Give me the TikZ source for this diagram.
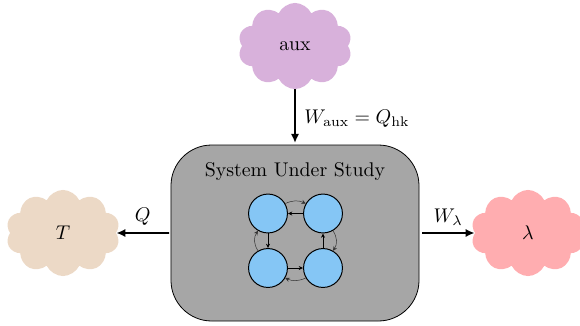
\documentclass[tikz,border=0pt]{standalone}
\usetikzlibrary{shapes.symbols,arrows.meta}
\definecolor{cauxc}{HTML}{D8B1DB}
\definecolor{ctc}{HTML}{ECD9C6}
\definecolor{clc}{HTML}{FFADB0}
\definecolor{sysc}{HTML}{A6A6A6}
\definecolor{sitec}{HTML}{85C6F5}
\tikzset{
  x=0.504pt,y=-0.504pt,
  bath/.style={cloud,cloud puffs=10,cloud puff arc=130,aspect=1.3,draw=none,inner sep=0pt,minimum width=57.5pt,minimum height=43.4pt},
  sysbox/.style={draw=black,fill=sysc,rounded corners=20.5pt,line width=0.4pt,minimum width=125pt,minimum height=88.7pt,inner sep=0pt},
  site/.style={circle,draw=black,fill=sitec,line width=0.5pt,minimum size=19.6pt,inner sep=0pt},
  flow/.style={-{Latex[length=4.6pt,width=4.2pt]},line width=0.9pt},
  hop/.style={-{Stealth[length=2.2pt,width=2pt]},line width=0.4pt},
  backhop/.style={-{Stealth[length=2.2pt,width=2.1pt]},line width=0.25pt,black!80},
}
\begin{document}
\begin{tikzpicture}
\useasboundingbox (0,0) rectangle (580,325);
\node[bath,fill=cauxc] (aux) at (295,46) {aux};
\node[bath,fill=ctc] (T) at (63,233) {$T$};
\begin{scope}
\clip (0,0) rectangle (580,325);
\node[bath,fill=clc] (L) at (528,233) {$\lambda$};
\end{scope}
\node[sysbox] (sys) at (295,233) {};
\node (title) at (295,171.5) {System Under Study};
\node[site] (a) at (268,213.5) {};
\node[site] (b) at (323,213.5) {};
\node[site] (c) at (268,268) {};
\node[site] (d) at (323,268) {};
\draw[hop] (b) -- (a);
\draw[hop] (a) -- (c);
\draw[hop] (c) -- (d);
\draw[hop] (d) -- (b);
\draw[backhop] (a.30) to[bend left=25] (b.150);
\draw[backhop] (b.-60) to[bend left=35] (d.60);
\draw[backhop] (d.-150) to[bend left=25] (c.-30);
\draw[backhop] (c.120) to[bend left=35] (a.-120);
\coordinate (sl) at (169,233);
\coordinate (sr) at (422,233);
\coordinate (st) at (295,143);
\draw[flow] (aux.south) -- (st) node[midway,right,xshift=1pt,yshift=-1pt] {$W_{\mathrm{aux}}=Q_{\mathrm{hk}}$};
\draw[flow] (sl) -- (T.east) node[midway,above,yshift=0.2pt] {$Q$};
\draw[flow] (sr) -- (L.west) node[midway,above,yshift=0.2pt] {$W_{\lambda}$};
\end{tikzpicture}
\end{document}
